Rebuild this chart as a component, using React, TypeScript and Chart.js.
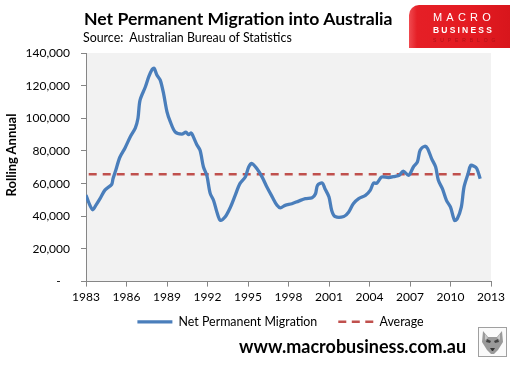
import React, { useEffect, useRef } from "react";
import { Chart, registerables } from "chart.js";

Chart.register(...registerables);

// ---- Data ----
const years = [
  1983.0, 1983.2, 1983.5, 1983.75, 1984.05, 1984.4, 1984.9, 1985.0, 1985.2, 1985.5,
  1985.9, 1986.3, 1986.65, 1986.85, 1987.0, 1987.4, 1987.65, 1987.9, 1988.05, 1988.25,
  1988.5, 1988.75, 1989.0, 1989.25, 1989.6, 1990.1, 1990.4, 1990.6, 1990.8, 1990.9,
  1991.2, 1991.45, 1991.7, 1991.95, 1992.2, 1992.45, 1992.7, 1992.95, 1993.3, 1993.7,
  1994.05, 1994.4, 1994.8, 1995.05, 1995.3, 1995.65, 1996.05, 1996.4, 1996.8, 1997.15,
  1997.4, 1997.75, 1998.25, 1998.75, 1999.25, 1999.75, 2000.0, 2000.15, 2000.5, 2000.7,
  2001.0, 2001.2, 2001.45, 2002.1, 2002.45, 2002.8, 2003.2, 2003.7, 2004.05, 2004.3,
  2004.55, 2004.9, 2005.4, 2005.9, 2006.2, 2006.5, 2006.9, 2007.25, 2007.55, 2007.75,
  2008.1, 2008.3, 2008.6, 2008.9, 2009.1, 2009.4, 2009.7, 2010.0, 2010.3, 2010.5,
  2010.8, 2011.0, 2011.3, 2011.5, 2011.75, 2011.95, 2012.2,
];
const migration = [
  53000, 48500, 44000, 47000, 51000, 56000, 59500, 63000, 68000, 76000,
  82000, 89000, 94000, 100000, 111000, 119300, 125500, 130000, 130600, 126500,
  123400, 115000, 104000, 97800, 91700, 90300, 91500, 90000, 91000, 89600,
  84000, 80400, 70200, 65000, 54000, 49700, 42500, 37500, 39500, 45600,
  52800, 60000, 64000, 70200, 72300, 69200, 64000, 57900, 51800, 46700,
  45200, 46700, 47700, 49300, 50800, 51400, 53800, 59000, 60400, 56900,
  51800, 43600, 39900, 39900, 42500, 47700, 50800, 52800, 55900, 60300,
  60300, 64000, 63700, 64500, 65100, 67700, 65100, 70200, 73300, 80400,
  82900, 81500, 75300, 70200, 62000, 56900, 49700, 45600, 37500, 38500,
  45600, 57900, 66100, 71200, 70600, 69200, 63000,
];
const averageYears = [1983.2, 2012.0];
const averageValue = 65800;
const xTickYears = [1983, 1986, 1989, 1992, 1995, 1998, 2001, 2004, 2007, 2010, 2013];
const yTickValues = [0, 20000, 40000, 60000, 80000, 100000, 120000, 140000];

const FONT = "Lato, 'Liberation Sans', sans-serif";

const bgPlugin = {
  id: "plotBg",
  beforeDraw(chart: any) {
    const { ctx, chartArea } = chart;
    ctx.save();
    ctx.fillStyle = "#f2f2f2";
    ctx.fillRect(chartArea.left, chartArea.top, chartArea.right - chartArea.left, chartArea.bottom - chartArea.top);
    ctx.restore();
  },
};

const legendShift = {
  id: "legendShift",
  afterLayout(chart: any) {
    const l = chart.legend;
    if (l) {
      l.left += 35;
      l.right += 35;
      l.top -= 13;
      l.bottom -= 13;
    }
  },
};

export default function App() {
  const ref = useRef<HTMLCanvasElement | null>(null);

  useEffect(() => {
    document.body.style.margin = "0";
    const canvas = ref.current;
    if (!canvas) return;
    Chart.defaults.font.family = FONT;
    Chart.defaults.color = "#000";
    const defaultLabels = (Chart.defaults.plugins.legend.labels as any).generateLabels;
    const chart = new Chart(canvas, {
      type: "line",
      data: {
        datasets: [
          {
            label: "Net Permanent Migration",
            data: years.map((x, i) => ({ x, y: migration[i] })),
            borderColor: "#4a7ebb",
            backgroundColor: "#4a7ebb",
            borderWidth: 3.3,
            pointRadius: 0,
            tension: 0.3,
            fill: false,
          },
          {
            label: "Average",
            data: averageYears.map((x) => ({ x, y: averageValue })),
            borderColor: "#c0504d",
            backgroundColor: "#c0504d",
            borderWidth: 2.5,
            borderDash: [8, 6],
            pointRadius: 0,
            fill: false,
          },
        ],
      },
      options: {
        animation: false,
        responsive: false,
        maintainAspectRatio: false,
        events: [],
        layout: { padding: { top: 53, right: 25, left: 0, bottom: 15 } },
        plugins: {
          legend: {
            position: "bottom",
            labels: {
              usePointStyle: true,
              pointStyle: "line",
              pointStyleWidth: 35,
              boxWidth: 35,
              boxHeight: 12,
              padding: 21,
              color: "#000",
              font: { family: FONT, size: 12.4 },
              generateLabels: (c: any) => {
                const items = defaultLabels(c);
                items.forEach((it: any) => {
                  const ds = c.data.datasets[it.datasetIndex];
                  it.lineDash = ds.borderDash ? [8, 5.5] : [];
                  it.lineWidth = ds.borderWidth;
                  it.strokeStyle = ds.borderColor;
                  it.fillStyle = ds.borderColor;
                });
                return items;
              },
            },
          },
          tooltip: { enabled: false },
          title: { display: false },
        },
        scales: {
          x: {
            type: "linear",
            min: 1983,
            max: 2013,
            afterBuildTicks: (scale: any) => {
              scale.ticks = xTickYears.map((v) => ({ value: v }));
            },
            afterFit: (scale: any) => {
              scale.height = 26;
            },
            ticks: {
              callback: (v: any) => String(v),
              padding: 3,
              maxRotation: 0,
              autoSkip: false,
              color: "#000",
              font: { family: FONT, size: 12 },
            },
            grid: { drawOnChartArea: false, drawTicks: true, tickLength: 5, color: "#868686" },
            border: { color: "#868686", width: 1 },
          },
          y: {
            min: 0,
            max: 140000,
            afterBuildTicks: (scale: any) => {
              scale.ticks = yTickValues.map((v) => ({ value: v }));
            },
            afterFit: (scale: any) => {
              scale.width = 86;
            },
            ticks: {
              callback: (v: any) => (v === 0 ? "-   " : Number(v).toLocaleString("en-US")),
              padding: 11,
              color: "#000",
              font: { family: FONT, size: 12 },
            },
            grid: { drawOnChartArea: false, drawTicks: true, tickLength: 5, color: "#868686" },
            border: { color: "#868686", width: 1 },
          },
        },
      },
      plugins: [bgPlugin, legendShift],
    } as any);
    return () => chart.destroy();
  }, []);

  const logoFont = "'Liberation Sans', sans-serif";

  return (
    <div style={{ position: "fixed", left: 0, top: 0, width: 516, height: 366, background: "#fff", overflow: "hidden", fontFamily: FONT }}>
      <canvas ref={ref} width={516} height={366} style={{ position: "absolute", left: 0, top: 0, width: 516, height: 366 }} />
      <div style={{ position: "absolute", left: 84, top: 10, fontSize: 17.6, lineHeight: "17px", fontWeight: 700, color: "#000", whiteSpace: "pre" }}>
        Net Permanent Migration into Australia
      </div>
      <div style={{ position: "absolute", left: 83, top: 31.5, fontSize: 12.4, lineHeight: "12px", color: "#000", whiteSpace: "pre" }}>
        {"Source:  Australian Bureau of Statistics"}
      </div>
      <div style={{ position: "absolute", left: -49, top: 147, width: 120, height: 16, lineHeight: "16px", fontSize: 13, fontWeight: 700, textAlign: "center", transform: "rotate(-90deg)", whiteSpace: "nowrap", color: "#000" }}>
        Rolling Annual
      </div>
      {/* logo */}
      <div style={{ position: "absolute", left: 409, top: 5, width: 101, height: 43, borderTopLeftRadius: 10, background: "linear-gradient(to right, #f04a50 0px, #e51f26 8px, #e41b22 60%, #d8161c 100%)" }}>
        <div style={{ position: "absolute", left: 24, top: 6, textAlign: "left", color: "#fff", fontSize: 11, lineHeight: "12px", letterSpacing: 4.2, fontFamily: logoFont, whiteSpace: "nowrap" }}>MACRO</div>
        <div style={{ position: "absolute", left: 24, top: 21, textAlign: "left", color: "#fff", fontSize: 8.5, lineHeight: "9px", letterSpacing: 2.2, fontWeight: 700, fontFamily: logoFont, whiteSpace: "nowrap" }}>BUSINESS</div>
        <div style={{ position: "absolute", left: 24, top: 32, textAlign: "left", color: "#b0121a", fontSize: 5, lineHeight: "6px", letterSpacing: 3.9, fontFamily: logoFont, whiteSpace: "nowrap" }}>SUPERBLOG</div>
      </div>
      <div style={{ position: "absolute", left: 239, top: 337, fontSize: 18, lineHeight: "18px", fontWeight: 700, color: "#000", whiteSpace: "nowrap" }}>
        www.macrobusiness.com.au
      </div>
      {/* wolf badge */}
      <div style={{ position: "absolute", left: 478, top: 327, width: 29, height: 30, boxSizing: "border-box", border: "1px solid #a0a0a0", background: "#fafafa" }}>
        <svg width="27" height="28" viewBox="0 0 27 28">
          <polygon points="4,3 9,9 18,9 23,3 24,14 19,22 15,26 12,26 8,22 3,14" fill="#9a9a9a" />
          <polygon points="8,11 12,13 11,15 7,14" fill="#444" />
          <polygon points="19,11 15,13 16,15 20,14" fill="#444" />
          <polygon points="11,20 16,20 14,23 13,23" fill="#333" />
          <polygon points="6,6 9,10 6,12" fill="#c8c8c8" />
          <polygon points="21,6 18,10 21,12" fill="#c8c8c8" />
        </svg>
      </div>
    </div>
  );
}
